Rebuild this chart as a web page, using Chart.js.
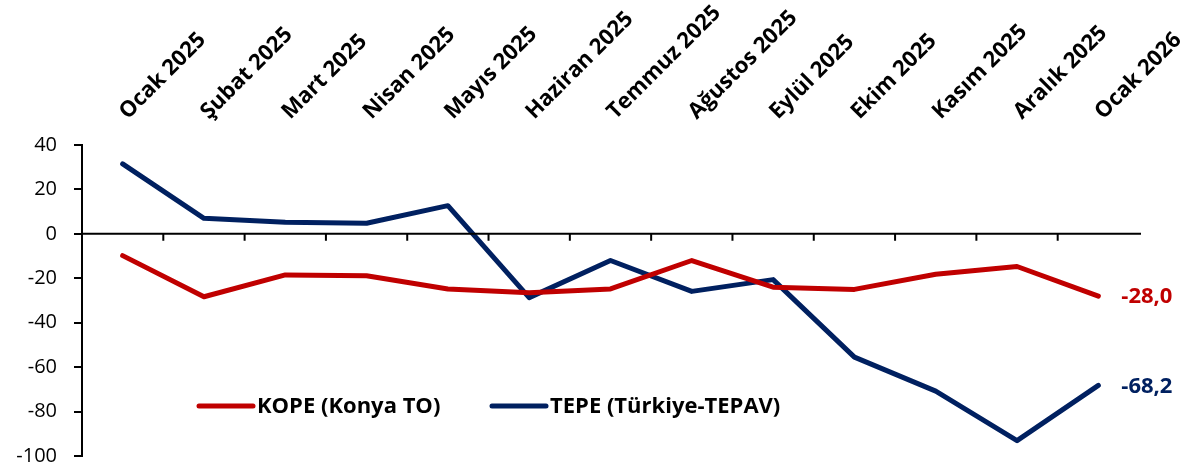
<!DOCTYPE html>
<html>
<head>
<meta charset="utf-8">
<script src="https://cdn.jsdelivr.net/npm/chart.js@4.4.1/dist/chart.umd.min.js"></script>
<style>
  html, body { margin: 0; padding: 0; background: #fff; }
  #wrap { width: 1188px; height: 473px; }
</style>
</head>
<body>
<div id="wrap"><canvas id="chart" width="1188" height="473"></canvas></div>
<script>
const months = ['Ocak 2025', 'Şubat 2025', 'Mart 2025', 'Nisan 2025', 'Mayıs 2025', 'Haziran 2025',
    'Temmuz 2025', 'Ağustos 2025', 'Eylül 2025', 'Ekim 2025', 'Kasım 2025', 'Aralık 2025', 'Ocak 2026'];
const kope = [-9.8, -28.3, -18.5, -18.9, -24.8, -26.5, -24.8, -12.0, -24.0, -25.0, -18.2, -14.7, -28.0];
const tepe = [31.5, 7.0, 5.2, 4.8, 12.7, -28.7, -12.0, -25.9, -20.6, -55.5, -70.8, -93.1, -68.2];
const yTicks = [40, 20, 0, -20, -40, -60, -80, -100];

const FONT = '"Open Sans", "DejaVu Sans", sans-serif';
const RED = '#C00000';
const BLUE = '#002060';

// axe horizontal à zéro + petites graduations entre les catégories
const zeroAxis = {
    id: 'zeroAxis',
    afterDatasetsDraw(chart) {
        const { ctx, chartArea, scales: { x, y } } = chart;
        const y0 = y.getPixelForValue(0);
        ctx.save();
        ctx.strokeStyle = '#000';
        ctx.lineWidth = 2;
        ctx.beginPath();
        ctx.moveTo(chartArea.left, y0);
        ctx.lineTo(chartArea.right + 2, y0);
        for (let i = 1; i < months.length; i++) {
            const xb = (x.getPixelForValue(i - 1) + x.getPixelForValue(i)) / 2;
            ctx.moveTo(xb, y0);
            ctx.lineTo(xb, y0 + 7);
        }
        ctx.stroke();
        ctx.restore();
    }
};

// libellés des mois en haut, inclinés à 45°, qui partent du centre de chaque catégorie
const topLabels = {
    id: 'topLabels',
    afterDraw(chart) {
        const { ctx, chartArea, scales: { x } } = chart;
        ctx.save();
        ctx.font = 'bold 22px ' + FONT;
        ctx.fillStyle = '#000';
        ctx.textAlign = 'left';
        ctx.textBaseline = 'alphabetic';
        months.forEach((m, i) => {
            ctx.save();
            ctx.translate(x.getPixelForValue(i) + 5, chartArea.top - 25);
            ctx.rotate(-Math.PI / 4);
            ctx.fillText(m, 0, 0);
            ctx.restore();
        });
        ctx.restore();
    }
};

// dernière valeur à droite de chaque courbe + légende dans le graphique
const extras = {
    id: 'extras',
    afterDraw(chart) {
        const { ctx, chartArea } = chart;
        ctx.save();
        ctx.font = 'bold 22px ' + FONT;
        ctx.textBaseline = 'middle';
        chart.data.datasets.forEach((ds, i) => {
            const pts = chart.getDatasetMeta(i).data;
            const last = pts[pts.length - 1];
            const v = ds.data[ds.data.length - 1];
            ctx.fillStyle = ds.borderColor;
            ctx.textAlign = 'left';
            ctx.fillText(v.toFixed(1).replace('.', ','), last.x + 23, last.y + 1);
        });

        const ly = chart.scales.y.getPixelForValue(-77.5);
        const starts = [chartArea.left + 117, chartArea.left + 410];
        ctx.lineCap = 'round';
        chart.data.datasets.forEach((ds, i) => {
            const sx = starts[i];
            ctx.strokeStyle = ds.borderColor;
            ctx.lineWidth = 5;
            ctx.beginPath();
            ctx.moveTo(sx, ly);
            ctx.lineTo(sx + 54, ly);
            ctx.stroke();
            ctx.fillStyle = '#000';
            ctx.textAlign = 'left';
            ctx.fillText(ds.label, sx + 58, ly + 1);
        });
        ctx.restore();
    }
};

new Chart(document.getElementById('chart'), {
    type: 'line',
    data: {
        labels: months,
        datasets: [
            { label: 'KOPE (Konya TO)', data: kope, borderColor: RED, backgroundColor: RED },
            { label: 'TEPE (Türkiye-TEPAV)', data: tepe, borderColor: BLUE, backgroundColor: BLUE }
        ]
    },
    options: {
        responsive: false,
        animation: false,
        layout: { padding: { left: 0, right: 49, top: 0, bottom: 17 } },
        elements: {
            line: { borderWidth: 5, tension: 0, borderCapStyle: 'round', borderJoinStyle: 'round' },
            point: { radius: 0, hoverRadius: 0 }
        },
        plugins: {
            legend: { display: false },
            tooltip: { enabled: false }
        },
        scales: {
            x: {
                position: 'top',
                offset: true,
                grid: { display: false, drawTicks: false },
                border: { display: false },
                ticks: { display: false },
                afterFit(scale) { scale.height = 145; }
            },
            y: {
                min: -100,
                max: 40,
                afterBuildTicks(scale) { scale.ticks = yTicks.map(v => ({ value: v })); },
                grid: { drawOnChartArea: false, tickLength: 8, color: '#000', lineWidth: 2 },
                border: { display: true, color: '#000', width: 2 },
                ticks: {
                    padding: 17,
                    color: '#000',
                    font: { family: FONT, size: 20 }
                },
                afterFit(scale) {
                    scale.width = 82;
                    scale.paddingTop = 0;
                    scale.paddingBottom = 0;
                }
            }
        }
    },
    plugins: [zeroAxis, topLabels, extras]
});
</script>
</body>
</html>
